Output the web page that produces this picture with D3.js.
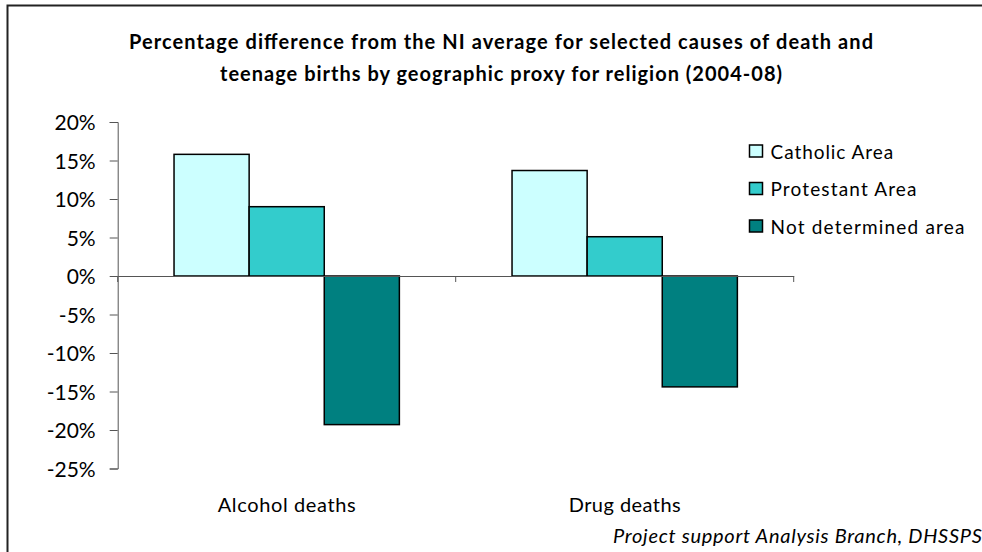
<!DOCTYPE html>
<html>
<head>
<meta charset="utf-8">
<script src="https://cdn.jsdelivr.net/npm/d3@7"></script>
<style>
  html, body { margin: 0; padding: 0; background: #fff; }
  svg { display: block; }
  text { font-family: Lato, "Open Sans", sans-serif; fill: #000; }
</style>
</head>
<body>
<svg id="chart" width="982" height="552"></svg>
<script>
// Causes shown along the x axis
const categories = ["Alcohol deaths", "Drug deaths"];
// Area types (legend order)
const seriesNames = ["Catholic Area", "Protestant Area", "Not determined area"];
// Percentage difference from the NI average, one array per area type
const catholicValues = [15.8, 13.7];
const protestantValues = [9.0, 5.1];
const notDeterminedValues = [-19.3, -14.4];
// Y axis tick values
const yTicks = [20, 15, 10, 5, 0, -5, -10, -15, -20, -25];

const seriesColors = ["#CCFFFF", "#33CCCC", "#008080"];
const seriesValues = [catholicValues, protestantValues, notDeterminedValues];

const svg = d3.select("#chart");

// widen spacing of a text element so it fills a given run length
function fitWidth(sel, width) {
  sel.attr("textLength", width).attr("lengthAdjust", "spacing");
}

// background and frame
svg.append("rect").attr("width", 982).attr("height", 552).attr("fill", "#fff");
svg.append("rect")
  .attr("x", 7.5).attr("y", 5.5)
  .attr("width", 1000).attr("height", 600)
  .attr("fill", "none").attr("stroke", "#222").attr("stroke-width", 2);

// title
const title = svg.append("text")
  .attr("text-anchor", "middle")
  .style("font-weight", "bold")
  .style("font-size", "20px");
title.append("tspan").attr("x", 501).attr("y", 48.5)
  .text("Percentage difference from the NI average for selected causes of death and")
  .call(fitWidth, 744);
title.append("tspan").attr("x", 501).attr("y", 80.5)
  .text("teenage births by geographic proxy for religion (2004-08)")
  .call(fitWidth, 562);

// scales
const plotLeft = 117.7, plotRight = 793.7;
const y = d3.scaleLinear().domain([-25, 20]).range([468.5, 122]);
const x0 = d3.scaleBand().domain(categories).range([plotLeft, plotRight]).padding(0);
const bw = x0.bandwidth();
const x1 = d3.scaleBand().domain(seriesNames).range([bw / 6, bw * 5 / 6]).padding(0);

// bars
const rows = [];
categories.forEach((c, i) => {
  seriesNames.forEach((s, j) => rows.push({ cat: c, series: s, value: seriesValues[j][i], color: seriesColors[j] }));
});

svg.append("g").selectAll("rect")
  .data(rows)
  .join("rect")
  .attr("x", d => x0(d.cat) + x1(d.series))
  .attr("y", d => y(Math.max(0, d.value)))
  .attr("width", x1.bandwidth())
  .attr("height", d => Math.abs(y(d.value) - y(0)))
  .attr("fill", d => d.color)
  .attr("stroke", "#000")
  .attr("stroke-width", 1.5);

// y axis
const yAxis = d3.axisLeft(y)
  .tickValues(yTicks)
  .tickSize(8)
  .tickPadding(14)
  .tickFormat(d => d + "%");
const yg = svg.append("g").attr("transform", `translate(${plotLeft},0)`).call(yAxis);
yg.select(".domain").attr("stroke", "#555").attr("stroke-width", 1);
yg.selectAll(".tick line").attr("stroke", "#555");
yg.selectAll(".tick text")
  .style("font-size", "21px")
  .style("font-family", "Lato, 'Open Sans', sans-serif")
  .attr("fill", "#000")
  .attr("dy", "0.38em");

// x axis along zero line
const xAxis = d3.axisBottom(x0).tickSize(0).tickFormat("");
const xg = svg.append("g").attr("transform", `translate(0,${y(0)})`).call(xAxis);
xg.select(".domain").attr("stroke", "#555").attr("stroke-width", 1);
// category boundary tick marks
const bounds = [plotLeft].concat(categories.map(c => x0(c) + bw));
xg.selectAll("line.bound")
  .data(bounds)
  .join("line")
  .attr("class", "bound")
  .attr("x1", d => d).attr("x2", d => d)
  .attr("y1", 0).attr("y2", 6)
  .attr("stroke", "#555");

// category labels below the plot
const catWidths = [138, 112];
svg.append("g").selectAll("text")
  .data(categories)
  .join("text")
  .attr("x", d => x0(d) + bw / 2)
  .attr("y", 511.5)
  .attr("text-anchor", "middle")
  .style("font-size", "20px")
  .text(d => d)
  .each(function (d, i) { d3.select(this).call(fitWidth, catWidths[i]); });

// legend
const legendWidths = [122.7, 146, 194];
const legend = svg.append("g").selectAll("g")
  .data(seriesNames)
  .join("g")
  .attr("transform", (d, i) => `translate(749.5,${145 + i * 37.5})`);
legend.append("rect")
  .attr("width", 13).attr("height", 12)
  .attr("fill", (d, i) => seriesColors[i])
  .attr("stroke", "#000").attr("stroke-width", 1.5);
legend.append("text")
  .attr("x", 21).attr("y", 13.5)
  .style("font-size", "19px")
  .text(d => d)
  .each(function (d, i) { d3.select(this).call(fitWidth, legendWidths[i]); });

// source note
svg.append("text")
  .attr("x", 613).attr("y", 543)
  .style("font-size", "20px")
  .style("font-style", "italic")
  .text("Project support Analysis Branch, DHSSPS")
  .call(fitWidth, 369);
</script>
</body>
</html>
